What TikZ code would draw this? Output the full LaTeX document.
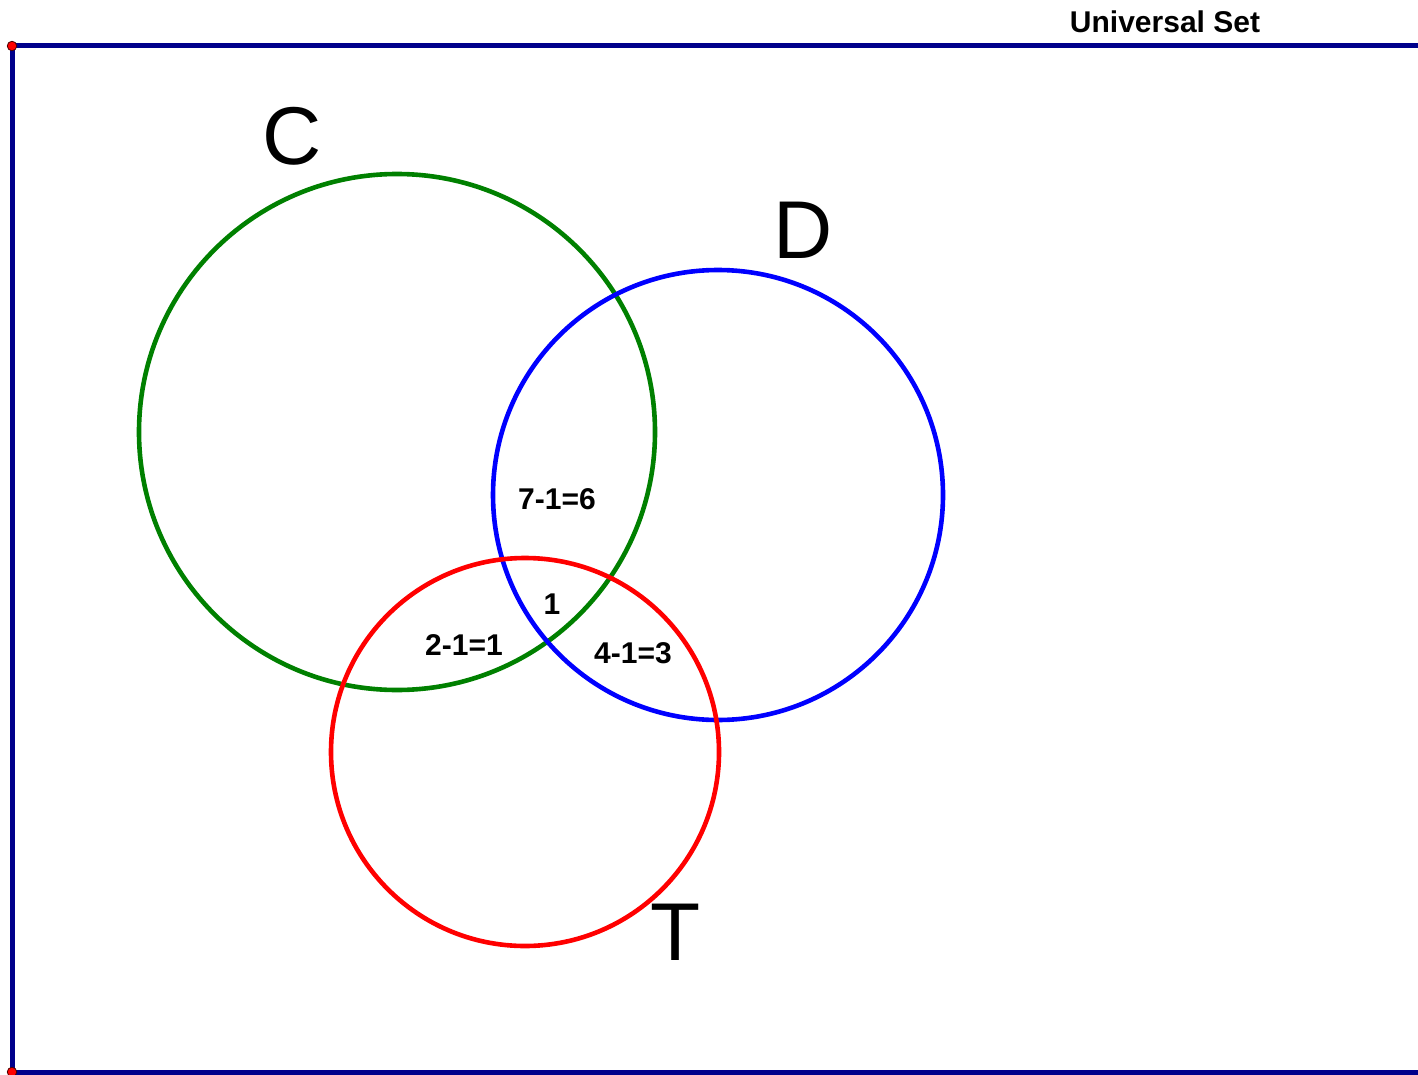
\documentclass[tikz,border=0pt]{standalone}
\usepackage{fontspec}
\setmainfont{Liberation Sans}
\begin{document}
\begin{tikzpicture}[x=1pt,y=-1pt,
  ring/.style={line width=4.6pt},
  num/.style={font=\fontsize{30}{33}\selectfont\bfseries},
  big/.style={font=\fontsize{82}{90}\selectfont},
  corner/.style={circle,fill=red,draw=black!70!red,line width=0.8pt,inner sep=0pt,minimum size=9.5pt}]
\useasboundingbox (0,0) rectangle (1418,1075);
\draw[line width=5pt,color={rgb,255:red,0;green,0;blue,139}] (1430,46) -- (12,46) -- (12,1072) -- (1430,1072);
\node[corner] (p1) at (12,46) {};
\node[corner] (p2) at (12,1072) {};
\node[font=\fontsize{30}{34}\selectfont\bfseries] (u) at (1165,22) {Universal Set};
\draw[ring,color={rgb,255:red,0;green,128;blue,0}] (397,432) circle (258);
\draw[ring,color=blue] (718,495) circle (225);
\draw[ring,color=red] (525,752) circle (194);
\node[big] (C) at (292,136) {C};
\node[big] (D) at (803,230) {D};
\node[big] (T) at (676,932) {T};
\node[num] (n1) at (557,499) {7-1=6};
\node[num] (n2) at (552,604) {1};
\node[num] (n3) at (464,645) {2-1=1};
\node[num] (n4) at (633,653) {4-1=3};
\end{tikzpicture}
\end{document}
